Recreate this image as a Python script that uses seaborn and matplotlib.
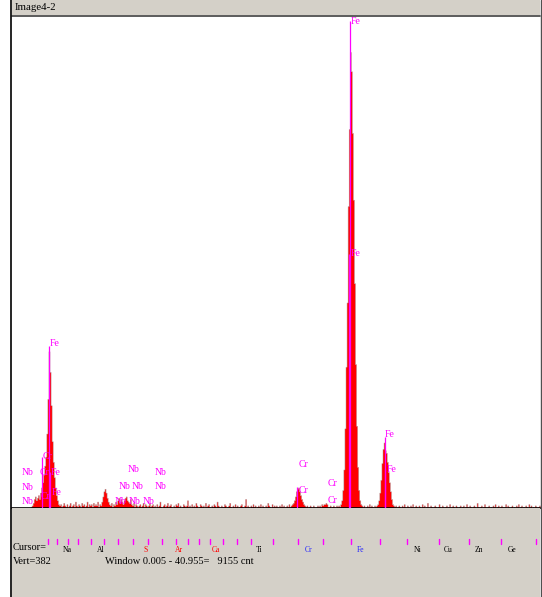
import numpy as np
import pandas as pd
import matplotlib
matplotlib.use("Agg")
import matplotlib.pyplot as plt
import matplotlib.transforms as mtransforms
from matplotlib.patches import Rectangle
from matplotlib.lines import Line2D
import seaborn as sns

# ---------------- data ----------------
channel_kev = 0.02          # channel width (keV); channel i starts at i*channel_kev
counts = [
    0, 0, 0, 0, 0, 0, 0, 0, 0, 0, 0, 0, 0, 0, 0, 0, 0, 0, 1, 2, 4, 7, 9, 6, 8,               # 0.0-0.5
    10, 7, 12, 16, 20, 26, 33, 40, 58, 85, 122, 106, 80, 52, 36, 24, 16, 10, 6, 3, 2, 3, 1, 2, 4,  # 0.5-1.0
    2, 1, 3, 0, 2, 4, 1, 2, 3, 1, 5, 2, 1, 3, 2, 0, 4, 2, 3, 1, 2, 5, 1, 3, 2,               # 1.0-1.5
    3, 1, 4, 2, 3, 2, 5, 1, 3, 2, 5, 9, 13, 15, 12, 8, 5, 3, 2, 4, 1, 3, 2, 5, 3,            # 1.5-2.0
    6, 8, 4, 7, 5, 3, 6, 8, 9, 6, 5, 4, 7, 3, 2, 4, 1, 3, 2, 0, 2, 3, 1, 2, 4,               # 2.0-2.5
    1, 3, 2, 0, 2, 4, 1, 2, 3, 1, 2, 0, 3, 1, 2, 5, 1, 0, 2, 3, 1, 2, 4, 1, 2,               # 2.5-3.0
    3, 1, 0, 2, 1, 3, 2, 4, 1, 2, 0, 1, 3, 2, 1, 2, 6, 1, 2, 0, 3, 1, 2, 1, 4,               # 3.0-3.5
    2, 0, 1, 3, 2, 1, 2, 0, 4, 1, 2, 3, 1, 0, 2, 1, 3, 2, 1, 5, 2, 1, 0, 2, 1,               # 3.5-4.0
    1, 3, 2, 0, 1, 2, 4, 1, 0, 2, 1, 3, 1, 2, 0, 1, 2, 3, 1, 0, 2, 7, 1, 2, 1,               # 4.0-4.5
    0, 2, 1, 3, 1, 2, 0, 1, 2, 1, 3, 0, 2, 1, 0, 2, 1, 4, 2, 1, 0, 3, 1, 2, 1,               # 4.5-5.0
    2, 1, 0, 2, 1, 3, 1, 2, 0, 1, 2, 1, 3, 1, 2, 3, 4, 6, 9, 13, 15, 16, 13, 10, 7,          # 5.0-5.5
    5, 3, 2, 1, 2, 0, 1, 2, 1, 0, 2, 1, 0, 1, 2, 1, 2, 1, 3, 2, 3, 3, 4, 3, 1,               # 5.5-6.0
    1, 2, 0, 1, 2, 1, 0, 2, 1, 2, 1, 3, 6, 14, 30, 62, 110, 160, 235, 295, 355, 340, 292, 240, 175,  # 6.0-6.5
    112, 64, 32, 14, 6, 3, 2, 1, 2, 0, 1, 2, 1, 3, 1, 2, 1, 0, 2, 1, 2, 3, 6, 12, 22,        # 6.5-7.0
    35, 46, 51, 45, 43, 36, 28, 20, 13, 7, 3, 2, 1, 2, 0, 1, 2, 1, 0, 2, 1, 3, 1, 0, 2,      # 7.0-7.5
    1, 0, 2, 1, 3, 0, 1, 2, 1, 0, 2, 1, 0, 3, 1, 2, 0, 1, 4, 1, 0, 2, 1, 0, 1,               # 7.5-8.0
    2, 1, 0, 1, 3, 1, 0, 2, 1, 0, 1, 2, 0, 1, 3, 0, 1, 2, 1, 0, 2, 1, 0, 1, 2,               # 8.0-8.5
    0, 1, 2, 0, 1, 3, 1, 0, 2, 1, 0, 1, 2, 1, 0, 4, 1, 0, 1, 2, 0, 1, 3, 1, 0,               # 8.5-9.0
    1, 2, 0, 1, 0, 2, 1, 3, 0, 1, 2, 0, 1, 2, 1, 0, 1, 3, 0, 2, 1, 0, 1, 2, 0,               # 9.0-9.5
    1, 0, 2, 1, 3, 0, 1, 2, 0, 1, 0, 2, 1, 0, 3, 1, 2, 0, 1, 0, 2, 1, 0, 1, 2,               # 9.5-10.0
]
vert_full_scale = 383

# peak identification labels (text, keV at left edge, counts at vertical centre)
peak_label_text = ["Fe", "Fe", "Fe", "Cr", "Cr", "Fe", "Fe", "Cr",
                   "Nb", "Nb", "Nb",
                   "Nb", "Nb", "Nb", "Nb", "Nb", "Nb", "Nb", "Nb",
                   "Cr", "Cr", "Cr", "Cr", "Fe", "Fe"]
peak_label_kev = [6.41, 6.41, 0.73, 0.58, 0.54, 0.75, 0.77, 0.56,
                  0.20, 0.20, 0.20,
                  2.19, 2.71, 2.02, 2.28, 2.71, 1.96, 2.21, 2.49,
                  5.44, 5.44, 5.99, 5.99, 7.07, 7.09]
peak_label_counts = [379, 198, 128, 40, 28, 28, 12, 9,
                     28, 16, 5,
                     30, 28, 17, 17, 17, 5, 5, 5,
                     34, 14, 19, 6, 57, 30]

# KLM marker lines (keV, height in counts)
marker_kev = [6.40, 6.39, 7.06, 7.07, 0.705, 0.57, 0.72, 5.41]
marker_counts = [379, 198, 55, 30, 126, 40, 28, 16]

# axis ticks
major_ticks = [2, 4, 6, 8]
major_tick_labels = ["2.", "4.", "6.", "8."]
minor_ticks = [1, 3, 5, 7, 9]

# element strip under the axis
strip_marks_kev = [0.69, 0.86, 1.07, 1.26, 1.51, 1.75, 2.02, 2.30, 2.59, 2.85, 3.12,
                   3.34, 3.55, 3.76, 4.01, 4.27, 4.54, 4.95, 5.43, 5.90, 6.43, 6.97,
                   7.49, 8.08, 8.65, 9.27, 9.92]
strip_elements = ["Na", "Al", "S", "Ar", "Ca", "Ti", "Cr", "Fe", "Ni", "Cu", "Zn", "Ge"]
strip_element_kev = [1.05, 1.68, 2.53, 3.17, 3.87, 4.69, 5.62, 6.60, 7.68, 8.27, 8.85, 9.48]
strip_element_colors = ["#000000", "#000000", "#ff0000", "#ff0000", "#ff0000", "#000000",
                        "#2020ff", "#2020ff", "#000000", "#000000", "#000000", "#000000"]

window_title = "Image4-2"
cursor_text = "Cursor="
vert_text = "Vert=382"
window_text = "Window 0.005 - 40.955=   9155 cnt"

# ---------------- figure ----------------
sns.set_style("white")
plt.rcParams["font.family"] = ["Liberation Serif", "DejaVu Serif"]

W, H = 542, 597
fig = plt.figure(figsize=(W / 100, H / 100), dpi=100)
fig.patch.set_facecolor("white")

def fx(px):
    return px / W

def fy(py):
    return 1 - py / H

panel_gray = "#d4d0c8"

# bottom gray panel and title bar
fig.patches.append(Rectangle((fx(12), 0), fx(540) - fx(12), fy(508), transform=fig.transFigure,
                             facecolor=panel_gray, edgecolor="none", zorder=0))
fig.patches.append(Rectangle((fx(12), fy(15)), fx(540) - fx(12), 15 / H, transform=fig.transFigure,
                             facecolor=panel_gray, edgecolor="none", zorder=0))
fig.lines.append(Line2D([fx(12), fx(540)], [fy(15.5), fy(15.5)], transform=fig.transFigure,
                        color="#404040", lw=1.2))
fig.lines.append(Line2D([fx(11), fx(11)], [0, 1], transform=fig.transFigure, color="black", lw=1.2))
fig.lines.append(Line2D([fx(540.5), fx(540.5)], [0, 1], transform=fig.transFigure, color="#505050", lw=1.0))
fig.text(fx(15), fy(8), window_title, fontsize=7.8, ha="left", va="center", color="black")

ax = fig.add_axes([fx(12), fy(508), fx(540) - fx(12), fy(16) - fy(508)])
ax.set_facecolor("white")

n = len(counts)
spectrum = pd.DataFrame({
    "energy": np.arange(n) * channel_kev + channel_kev / 2,
    "counts": counts,
})
sns.histplot(data=spectrum, x="energy", weights="counts", binwidth=channel_kev,
             binrange=(0, n * channel_kev), element="step", fill=True,
             color="#ff0000", alpha=1.0, edgecolor="#b0a0a0", linewidth=0.35, ax=ax, zorder=2)

ax.vlines(marker_kev, 0, marker_counts, color="#ff00ff", lw=0.9, zorder=3)
for t, xk, yc in zip(peak_label_text, peak_label_kev, peak_label_counts):
    ax.text(xk, yc, t, color="#ff00ff", fontsize=7, ha="left", va="center", zorder=4)

ax.set_xlim(0.01, 10.0)
ax.set_ylim(0, vert_full_scale)
ax.set_xlabel("")
ax.set_ylabel("")
ax.set_yticks([])
ax.set_xticks(major_ticks)
ax.set_xticklabels(major_tick_labels, fontsize=7.5)
ax.set_xticks(minor_ticks, minor=True)
ax.tick_params(axis="x", which="major", direction="out", length=8.6, width=1.0,
               color="#303030", pad=3.2, bottom=True)
ax.tick_params(axis="x", which="minor", direction="out", length=5, width=1.0,
               color="#303030", bottom=True)
for s in ["top", "left", "right"]:
    ax.spines[s].set_visible(False)
ax.spines["bottom"].set_color("black")
ax.spines["bottom"].set_linewidth(1.2)

# element strip beneath the axis (x in data, y in figure)
trans = mtransforms.blended_transform_factory(ax.transData, fig.transFigure)
for xk in strip_marks_kev:
    fig.lines.append(Line2D([xk, xk], [fy(539), fy(544)], transform=trans, color="#ff00ff", lw=1.0))
for name, xk, c in zip(strip_elements, strip_element_kev, strip_element_colors):
    fig.text(xk, fy(550), name, transform=trans, color=c, fontsize=5.5, ha="center", va="center")

fig.text(fx(13), fy(547), cursor_text, fontsize=7.5, ha="left", va="center", color="black")
fig.text(fx(13), fy(562), vert_text, fontsize=7.5, ha="left", va="center", color="black")
fig.text(fx(105), fy(562), window_text, fontsize=7.5, ha="left", va="center", color="black")

fig.savefig("out.png", dpi=100, facecolor="white")
